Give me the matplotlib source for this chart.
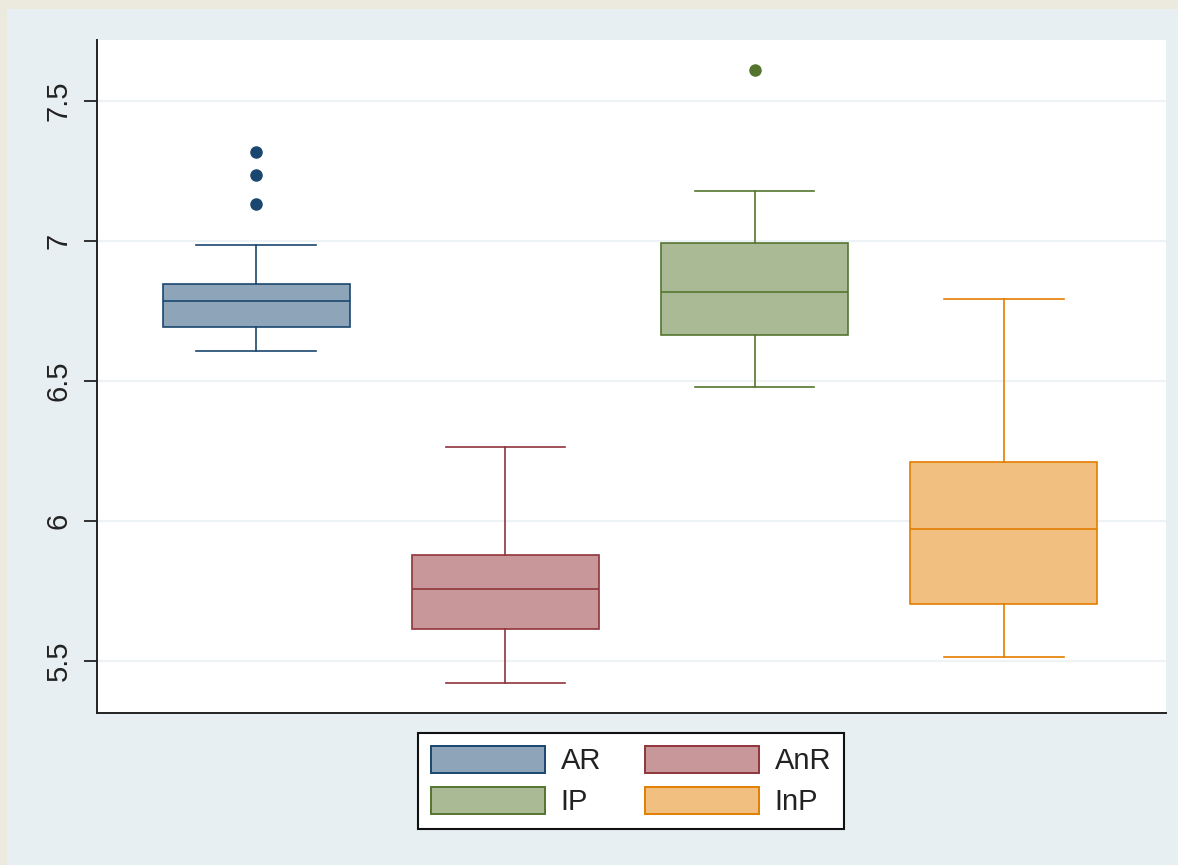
import matplotlib
matplotlib.use("Agg")
import matplotlib.pyplot as plt
from matplotlib.patches import Patch, Rectangle

# ---- data ----
groups = ["AR", "AnR", "IP", "InP"]
whisker_low = [6.607, 5.421, 6.479, 5.514]
q1 = [6.693, 5.614, 6.664, 5.704]
median = [6.786, 5.757, 6.818, 5.971]
q3 = [6.846, 5.879, 6.993, 6.211]
whisker_high = [6.986, 6.264, 7.179, 6.793]
outliers = [[7.132, 7.236, 7.318], [], [7.611], []]
yticks = [5.5, 6, 6.5, 7, 7.5]
ytick_labels = ["5.5", "6", "6.5", "7", "7.5"]

edge_colors = ["#1a476f", "#90353b", "#55752f", "#e37e00"]
fill_colors = ["#8ea4b9", "#c8979a", "#a9ba95", "#f1bf7f"]

plt.rcParams["font.family"] = ["Liberation Sans", "DejaVu Sans"]

W, H = 1178, 865
fig = plt.figure(figsize=(W / 100, H / 100), dpi=100)
fig.patch.set_facecolor("#ece9df")
fig.patches.append(Rectangle((7 / W, 0), 1 - 7 / W, 1 - 9 / H, transform=fig.transFigure,
                             facecolor="#e8eff2", edgecolor="none", zorder=-10))

ax = fig.add_axes([97 / W, 1 - 713 / H, (1166 - 97) / W, (713 - 40) / H])
ax.set_facecolor("white")

stats = []
for i, g in enumerate(groups):
    stats.append(dict(label=g, med=median[i], q1=q1[i], q3=q3[i],
                      whislo=whisker_low[i], whishi=whisker_high[i], fliers=outliers[i]))

positions = list(range(len(groups)))
for i, s in enumerate(stats):
    ec = edge_colors[i]
    ax.bxp([s], positions=[positions[i]], widths=0.75, capwidths=0.48, patch_artist=True,
           showfliers=True,
           boxprops=dict(facecolor=fill_colors[i], edgecolor=ec, linewidth=1.2),
           medianprops=dict(color=ec, linewidth=1.2),
           whiskerprops=dict(color=ec, linewidth=1.2),
           capprops=dict(color=ec, linewidth=1.2),
           flierprops=dict(marker="o", markerfacecolor=ec, markeredgecolor=ec, markersize=8))

ax.set_xlim(-0.638, 3.65)
ax.set_ylim(5.314, 7.718)
ax.set_xticks([])
ax.set_yticks(yticks)
ax.set_yticklabels(ytick_labels, rotation=90, va="center", fontsize=21, color="#222222")
ax.tick_params(axis="y", length=9.5, width=1.3, color="#222222", pad=8)
ax.grid(axis="y", color="#edf3f4", linewidth=1.5)
ax.set_axisbelow(True)
for sp in ["top", "right"]:
    ax.spines[sp].set_visible(False)
for sp in ["left", "bottom"]:
    ax.spines[sp].set_color("#222222")
    ax.spines[sp].set_linewidth(1.4)

handles = [Patch(facecolor=fill_colors[i], edgecolor=edge_colors[i], linewidth=1.4, label=g)
           for i, g in enumerate(groups)]
leg = fig.legend(handles=[handles[0], handles[2], handles[1], handles[3]],
                 labels=[groups[0], groups[2], groups[1], groups[3]],
                 ncol=2, loc="center", bbox_to_anchor=(631 / W, 1 - 781 / H),
                 fontsize=21, handlelength=3.9, handleheight=1.05, handletextpad=0.55,
                 columnspacing=1.5, labelspacing=0.4, borderpad=0.45, fancybox=False,
                 frameon=True, borderaxespad=0, framealpha=1)
leg.get_frame().set_edgecolor("#111111")
leg.get_frame().set_linewidth(1.5)
leg.get_frame().set_facecolor("white")
for t in leg.get_texts():
    t.set_color("#222222")

fig.savefig("out.png", dpi=100, facecolor=fig.get_facecolor())
